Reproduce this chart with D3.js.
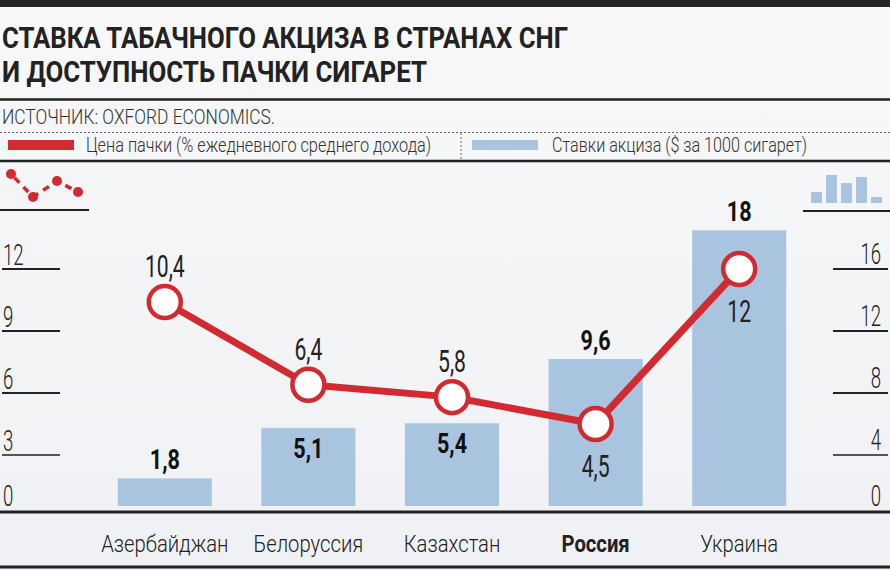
<!DOCTYPE html>
<html>
<head>
<meta charset="utf-8">
<script src="https://cdn.jsdelivr.net/npm/d3@7"></script>
<style>
  html, body { margin: 0; padding: 0; background: #f4f5f7; }
  svg { display: block; font-family: Roboto, "Liberation Sans", sans-serif; }
</style>
</head>
<body>
<svg id="chart" width="890" height="570"></svg>
<script>
// ---------- data ----------
const categories   = ["Азербайджан", "Белоруссия", "Казахстан", "Россия", "Украина"];
const priceShare   = [10.4, 6.4, 5.8, 4.5, 12];     // цена пачки, % ежедневного среднего дохода
const exciseRate   = [1.8, 5.1, 5.4, 9.6, 18];      // ставки акциза, $ за 1000 сигарет
const leftTicks    = [0, 3, 6, 9, 12];
const rightTicks   = [0, 4, 8, 12, 16];
const priceLabelSide  = ["above", "above", "above", "below", "below"];
const exciseLabelSide = ["above", "inside", "inside", "above", "above"];
const highlighted  = "Россия";

const titleLines   = ["СТАВКА ТАБАЧНОГО АКЦИЗА В СТРАНАХ СНГ", "И ДОСТУПНОСТЬ ПАЧКИ СИГАРЕТ"];
const sourceText   = "ИСТОЧНИК: OXFORD ECONOMICS.";
const legendLabels = ["Цена пачки (% ежедневного среднего дохода)", "Ставки акциза ($ за 1000 сигарет)"];

const fmt = v => String(v).replace(".", ",");

// ---------- setup ----------
const W = 890, H = 570;
const RED = "#d12a31", BLUE = "#a9c4de", INK = "#222";
const svg = d3.select("#chart");

const defs = svg.append("defs");
const grad = defs.append("linearGradient").attr("id", "bg").attr("x1", 0).attr("y1", 0).attr("x2", 0).attr("y2", 1);
grad.append("stop").attr("offset", "0%").attr("stop-color", "#f8f8f9");
grad.append("stop").attr("offset", "100%").attr("stop-color", "#eff1f4");
svg.append("rect").attr("width", W).attr("height", H).attr("fill", "url(#bg)");

// helper: condense a text element horizontally (anchor-safe)
function condense(sel, ratio) {
  sel.each(function () {
    const t = d3.select(this);
    const tx = +t.attr("x"), ty = +t.attr("y");
    t.attr("x", 0).attr("y", 0).attr("transform", `translate(${tx},${ty}) scale(${ratio},1)`);
  });
}
function fitWidth(sel, w) {
  sel.attr("textLength", w).attr("lengthAdjust", "spacingAndGlyphs");
}
function hline(y, x1, x2, w, color, dash) {
  const l = svg.append("line").attr("x1", x1).attr("x2", x2).attr("y1", y).attr("y2", y)
    .attr("stroke", color || INK).attr("stroke-width", w);
  if (dash) l.attr("stroke-dasharray", dash);
  return l;
}

// ---------- header ----------
svg.append("rect").attr("x", 0).attr("y", 0).attr("width", W).attr("height", 7).attr("fill", "#262626");

svg.append("text").attr("x", 2).attr("y", 48).attr("font-size", 29).attr("font-weight", 700).attr("fill", INK)
  .text(titleLines[0]).call(fitWidth, 566);
svg.append("text").attr("x", 2).attr("y", 82).attr("font-size", 29).attr("font-weight", 700).attr("fill", INK)
  .text(titleLines[1]).call(fitWidth, 425);

hline(99.5, 0, W, 2.5);
svg.append("text").attr("x", 2).attr("y", 124).attr("font-size", 21).attr("font-weight", 300).attr("fill", "#333")
  .text(sourceText).call(fitWidth, 273);
hline(132.5, 0, W, 1, "#666", "2,2");

// legend
svg.append("rect").attr("x", 8).attr("y", 140).attr("width", 66).attr("height", 10).attr("fill", RED);
svg.append("text").attr("x", 86).attr("y", 152).attr("font-size", 20).attr("font-weight", 300).attr("fill", "#333")
  .text(legendLabels[0]).call(fitWidth, 345);
svg.append("line").attr("x1", 461).attr("x2", 461).attr("y1", 133).attr("y2", 160)
  .attr("stroke", "#666").attr("stroke-width", 1).attr("stroke-dasharray", "2,2");
svg.append("rect").attr("x", 472).attr("y", 140).attr("width", 66).attr("height", 10).attr("fill", BLUE);
svg.append("text").attr("x", 552).attr("y", 152).attr("font-size", 20).attr("font-weight", 300).attr("fill", "#333")
  .text(legendLabels[1]).call(fitWidth, 255);
hline(161, 0, W, 2.5);

// ---------- scales ----------
const x = d3.scaleBand().domain(categories).range([93, 811]).paddingInner(0.345).paddingOuter(0.1725);
const yLine = d3.scaleLinear().domain([0, 12]).range([517, 269]);   // left axis (line)
const yRightTicks = d3.scaleLinear().domain([0, 16]).range([517, 269]);
const yBar = d3.scaleLinear().domain([0, 16]).range([506, 261]);    // bars
const cx = c => x(c) + x.bandwidth() / 2;

// ---------- axis icons ----------
const iconPts = [[11, 174], [33, 197], [57, 181], [78, 192]];
svg.append("path").attr("d", d3.line()(iconPts)).attr("fill", "none").attr("stroke", RED)
  .attr("stroke-width", 3.5).attr("stroke-dasharray", "7,6").attr("stroke-dashoffset", -5);
svg.selectAll(".icondot").data(iconPts).join("circle").attr("class", "icondot")
  .attr("cx", d => d[0]).attr("cy", d => d[1]).attr("r", 5).attr("fill", RED);
hline(210, 0, 89, 2);

const iconBars = [[811, 192], [826, 175], [841, 183], [856, 177], [871, 197]];
svg.selectAll(".iconbar").data(iconBars).join("rect").attr("class", "iconbar")
  .attr("x", d => d[0]).attr("y", d => d[1]).attr("width", 11).attr("height", d => 203 - d[1]).attr("fill", BLUE);
hline(211, 803, W, 2);

// ---------- left axis ----------
const leftAxis = svg.append("g");
leftTicks.forEach(v => {
  if (v > 0) hline(yLine(v), 2, 60, 2, v === 3 ? "#555" : INK);
  leftAxis.append("text").attr("x", 3).attr("y", v > 0 ? yLine(v) - 4 : 506)
    .attr("font-size", 30).attr("font-weight", 300).attr("fill", INK).text(v).call(condense, 0.62);
});

// ---------- right axis ----------
const rightAxis = svg.append("g");
rightTicks.forEach(v => {
  if (v > 0) hline(yRightTicks(v), 833, 888, 2, v === 4 ? "#555" : INK);
  rightAxis.append("text").attr("x", 881).attr("y", v > 0 ? yRightTicks(v) - 5 : 506)
    .attr("text-anchor", "end").attr("font-size", 30).attr("font-weight", 300).attr("fill", INK)
    .text(v).call(condense, 0.62);
});

// ---------- bars ----------
const rows = categories.map((c, i) => ({ c, price: priceShare[i], excise: exciseRate[i],
  pSide: priceLabelSide[i], eSide: exciseLabelSide[i] }));

svg.append("g").selectAll("rect").data(rows).join("rect")
  .attr("x", d => x(d.c)).attr("width", x.bandwidth())
  .attr("y", d => yBar(d.excise)).attr("height", d => yBar(0) - yBar(d.excise))
  .attr("fill", BLUE);

svg.append("g").selectAll("text").data(rows).join("text")
  .attr("x", d => cx(d.c))
  .attr("y", d => d.eSide === "inside" ? yBar(d.excise) + 30 : yBar(d.excise) - 9)
  .attr("text-anchor", "middle").attr("font-size", 27).attr("font-weight", 700).attr("fill", "#111")
  .text(d => fmt(d.excise)).call(condense, 0.8);

// ---------- axis base lines ----------
hline(512, 0, W, 3);
hline(567, 0, W, 3);

// ---------- line ----------
svg.append("path").datum(rows)
  .attr("d", d3.line().x(d => cx(d.c)).y(d => yLine(d.price)))
  .attr("fill", "none").attr("stroke", RED).attr("stroke-width", 7).attr("stroke-linejoin", "round");

svg.append("g").selectAll("circle").data(rows).join("circle")
  .attr("cx", d => cx(d.c)).attr("cy", d => yLine(d.price)).attr("r", 16)
  .attr("fill", "#fff").attr("stroke", RED).attr("stroke-width", 4.5);

svg.append("g").selectAll("text").data(rows).join("text")
  .attr("x", d => cx(d.c))
  .attr("y", d => d.pSide === "above" ? yLine(d.price) - 25 : yLine(d.price) + 53)
  .attr("text-anchor", "middle").attr("font-size", 32).attr("font-weight", 400).attr("fill", "#222")
  .text(d => fmt(d.price)).call(condense, 0.66);

// ---------- category labels ----------
svg.append("g").selectAll("text").data(categories).join("text")
  .attr("x", d => cx(d)).attr("y", 552).attr("text-anchor", "middle")
  .attr("font-size", 23).attr("font-weight", d => d === highlighted ? 700 : 300).attr("fill", "#222")
  .text(d => d).call(condense, 0.88);
</script>
</body>
</html>
